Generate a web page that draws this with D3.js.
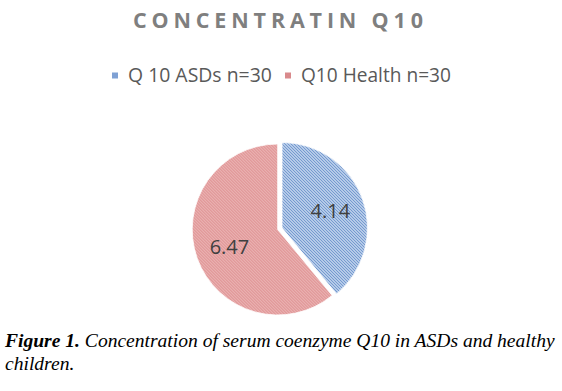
<!DOCTYPE html>
<html><head><meta charset="utf-8">
<script src="https://cdn.jsdelivr.net/npm/d3@7"></script>
<style>body{margin:0;background:#fff}svg{display:block}</style>
</head><body>
<script>
const categories = ["Q 10 ASDs n=30", "Q10 Health n=30"];
const values = [4.14, 6.47];
const valueLabels = ["4.14", "6.47"];
const title = "CONCENTRATIN Q10";
const captionBold = "Figure 1.";
const captionLine1 = " Concentration of serum coenzyme Q10 in ASDs and healthy";
const captionLine2 = "children.";

const W = 562, H = 391;
const svg = d3.select("body").append("svg").attr("width", W).attr("height", H);
const defs = svg.append("defs");

function makePattern(id, bg, fg) {
  const p = defs.append("pattern").attr("id", id).attr("patternUnits", "userSpaceOnUse")
    .attr("width", 3).attr("height", 3);
  p.append("rect").attr("width", 3).attr("height", 3).attr("fill", bg);
  p.append("rect").attr("x", 0).attr("y", 0).attr("width", 1).attr("height", 1).attr("fill", fg);
  p.append("rect").attr("x", 1).attr("y", 1).attr("width", 1).attr("height", 1).attr("fill", fg);
  p.append("rect").attr("x", 2).attr("y", 2).attr("width", 1).attr("height", 1).attr("fill", fg);
}
makePattern("pBlue", "#b8cce9", "#6f95cd");
makePattern("pRed", "#edb8b8", "#d57b7d");

const color = d3.scaleOrdinal().domain(categories).range(["url(#pBlue)", "url(#pRed)"]);
const swatch = d3.scaleOrdinal().domain(categories).range(["#7fa1d4", "#d98a8c"]);

function fitText(sel, target) {
  const fs = +sel.attr("font-size");
  const w = sel.node().getComputedTextLength();
  sel.attr("font-size", fs * target / w);
}

// Title
const t = svg.append("text").attr("x", 133).attr("y", 28)
  .attr("font-family", "Open Sans, Liberation Sans, sans-serif").attr("font-weight", "bold")
  .attr("font-size", 21.5).attr("letter-spacing", 5).attr("fill", "#7f7f7f").text(title);
{
  const w = t.node().getComputedTextLength() - 5;
  const ls = 5 + (290 - w) / 15;
  t.attr("letter-spacing", ls);
}

// Legend
const legendX = [112, 285];
const legendW = [144, 150];
const lg = svg.append("g");
categories.forEach((c, i) => {
  lg.append("rect").attr("x", legendX[i]).attr("y", 72.5).attr("width", 6).attr("height", 6).attr("fill", swatch(c));
  const tx = lg.append("text").attr("x", legendX[i] + 16).attr("y", 82).attr("font-family", "Open Sans, sans-serif")
    .attr("font-size", 18).attr("fill", "#595959").text(c);
  fitText(tx, legendW[i]);
});

// Pie
const cx = 277.7, cy = 229.5, r = 85.5, explode = 4.6;
const pie = d3.pie().sort(null).value(d => d.v);
const data = categories.map((c, i) => ({c, v: values[i], lab: valueLabels[i]}));
const arcs = pie(data);
const arc = d3.arc().innerRadius(0).outerRadius(r);
const labelArc = d3.arc().innerRadius(r * 0.6).outerRadius(r * 0.6);
const g = svg.append("g").attr("transform", `translate(${cx},${cy})`);
arcs.forEach((a, i) => {
  const mid = (a.startAngle + a.endAngle) / 2;
  const off = i === 0 ? explode : 0;
  const dx = Math.sin(mid) * off, dy = -Math.cos(mid) * off;
  const sg = g.append("g").attr("transform", `translate(${dx},${dy})`);
  sg.append("path").attr("d", arc(a)).attr("fill", color(a.data.c)).attr("stroke", "#fff").attr("stroke-width", 0.8);
  const [lx, ly] = labelArc.centroid(a);
  sg.append("text").attr("x", lx).attr("y", ly).attr("text-anchor", "middle").attr("dominant-baseline", "central")
    .attr("font-family", "Open Sans, sans-serif").attr("font-size", 20).attr("fill", "#404040").text(a.data.lab);
});

// Caption
const cap = svg.append("text").attr("x", 5).attr("y", 347).attr("font-family", "Liberation Serif, Times New Roman, serif")
  .attr("font-size", 18).attr("font-style", "italic").attr("fill", "#000");
cap.append("tspan").attr("font-weight", "bold").text(captionBold);
cap.append("tspan").text(captionLine1);
const cw = cap.node().getComputedTextLength();
const fs = 18 * 550 / cw;
cap.attr("font-size", fs);
svg.append("text").attr("x", 5).attr("y", 370).attr("font-family", "Liberation Serif, Times New Roman, serif")
  .attr("font-size", fs).attr("font-style", "italic").attr("fill", "#000").text(captionLine2);
</script>
</body></html>
